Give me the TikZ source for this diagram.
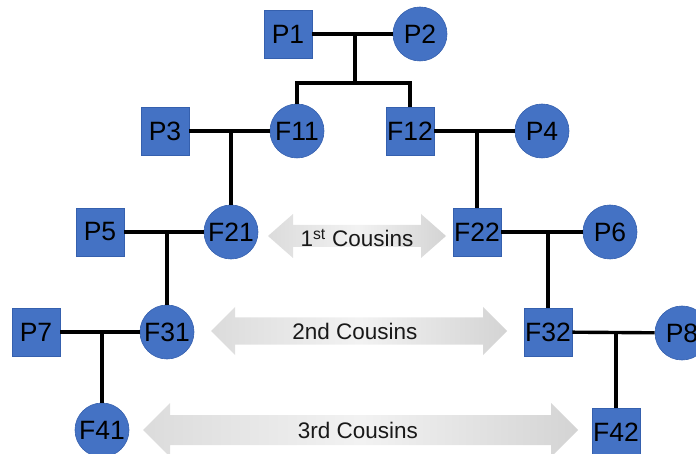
\documentclass[tikz,border=0pt]{standalone}
\usepackage{fontspec}
\setmainfont{Liberation Sans}
\usetikzlibrary{calc}
\definecolor{pblue}{HTML}{4472C4}
\definecolor{pedge}{HTML}{3560AE}
\newcommand\cousinband[6]{%
  \shade[band] (#1,#3) -- (#1+#6,#3-#5) -- (#1+#6,#3-#4) -- (#2-#6,#3-#4) -- (#2-#6,#3-#5)
    -- (#2,#3) -- (#2-#6,#3+#5) -- (#2-#6,#3+#4) -- (#1+#6,#3+#4) -- (#1+#6,#3+#5) -- cycle;}
\begin{document}
\begin{tikzpicture}[x=1pt,y=-1pt,
  male/.style={rectangle,fill=pblue,draw=pedge,line width=0.6pt,minimum size=48pt,inner sep=0pt,font=\fontsize{26.5}{28}\selectfont},
  female/.style={circle,fill=pblue,draw=pedge,line width=0.6pt,minimum size=54pt,inner sep=0pt,font=\fontsize{26.5}{28}\selectfont},
  link/.style={line width=3.4pt,black},
  band/.style={left color=black!14,right color=black!17,middle color=black!5},
  lab/.style={font=\fontsize{22.5}{24}\selectfont,text=black!90,inner sep=0pt}]
\useasboundingbox (0,0) rectangle (696,454);
% cousin bands
\cousinband{268}{446}{236}{11}{22}{25}
\cousinband{211}{507}{331}{13.5}{24}{24}
\cousinband{143}{578}{430}{15}{27}{27}
\node[lab] (c1) at (357,238) {1\textsuperscript{st} Cousins};
\node[lab] (c2) at (355,331) {2nd Cousins};
\node[lab] (c3) at (358,430) {3rd Cousins};
% people
\node[male]   (P1)  at (288,34)  {P1};
\node[female] (P2)  at (420,34)  {P2};
\node[female] (F11) at (297,131) {F11};
\node[male]   (F12) at (410,131) {F12};
\node[male]   (P3)  at (165,131) {P3};
\node[female] (P4)  at (542,131) {P4};
\node[male]   (P5)  at (100,232) {P5};
\node[female] (F21) at (231,232) {F21};
\node[male]   (F22) at (477,232) {F22};
\node[female] (P6)  at (610,232) {P6};
\node[male]   (P7)  at (36,332)  {P7};
\node[female] (F31) at (167,332) {F31};
\node[male]   (F32) at (548,332) {F32};
\node[female] (P8)  at (682,333) {P8};
\node[female] (F41) at (102,430) {F41};
\node[male]   (F42) at (616,432) {F42};
\coordinate (m1) at (355,83);
% links
\draw[link] (P1) -- (P2);
\draw[link] (m1 |- P1) -- (m1);
\draw[link] (F11.north) |- (m1) -| (F12.north);
\draw[link] (P3) -- (F11);
\draw[link] (F21.north) -- (F21.north |- P3);
\draw[link] (F12) -- (P4);
\draw[link] (F22.north) -- (F22.north |- P4);
\draw[link] (P5) -- (F21);
\draw[link] (F31.north) -- (F31.north |- P5);
\draw[link] (F22) -- (P6);
\draw[link] (F32.north) -- (F32.north |- P6);
\draw[link] (P7) -- (F31);
\draw[link] (F41.north) -- (F41.north |- P7);
\draw[link] (F32) -- (P8);
\draw[link] (F42.north) -- (F42.north |- F32);
\end{tikzpicture}
\end{document}
